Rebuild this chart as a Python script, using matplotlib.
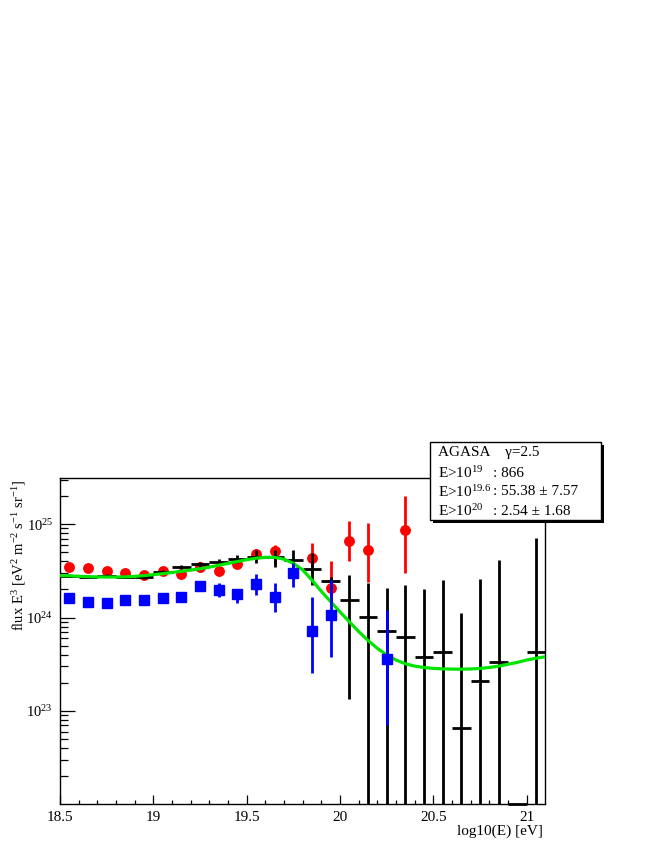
import numpy as np
import matplotlib
matplotlib.use('Agg')
import matplotlib.pyplot as plt
from matplotlib.patches import Rectangle
from matplotlib.ticker import LogLocator, NullFormatter, FixedLocator, MultipleLocator

plt.rcParams['font.family'] = ['Liberation Serif', 'DejaVu Serif']
plt.rcParams['mathtext.fontset'] = 'custom'
plt.rcParams['mathtext.rm'] = 'Liberation Serif'
plt.rcParams['mathtext.it'] = 'Liberation Serif:italic'
plt.rcParams['mathtext.bf'] = 'Liberation Serif:bold'

# ---------------- data ----------------
black_x = [18.55, 18.65, 18.75, 18.85, 18.95, 19.05, 19.15, 19.25, 19.35, 19.45,
           19.55, 19.65, 19.75, 19.85, 19.95, 20.05, 20.15, 20.25, 20.35, 20.45,
           20.55, 20.65, 20.75, 20.85, 20.95, 21.05]
black_y = [2.81e24, 2.75e24, 2.81e24, 2.74e24, 2.69e24, 3.06e24, 3.48e24, 3.72e24, 3.98e24, 4.22e24,
           4.43e24, 4.50e24, 4.17e24, 3.34e24, 2.47e24, 1.53e24, 1.01e24, 7.13e23, 6.15e23, 3.75e23,
           4.25e23, 6.56e22, 2.11e23, 3.34e23, 0.0, 4.25e23]
black_lo = [2.70e24, 2.64e24, 2.70e24, 2.63e24, 2.57e24, 2.91e24, 3.28e24, 3.48e24, 3.68e24, 3.80e24,
            3.80e24, 3.52e24, 3.24e24, 2.24e24, 2.00e24, 1.34e23, 0.0, 0.0, 0.0, 0.0,
            0.0, 0.0, 0.0, 0.0, 0.0, 0.0]
black_hi = [2.92e24, 2.86e24, 2.92e24, 2.85e24, 2.81e24, 3.21e24, 3.68e24, 3.97e24, 4.28e24, 4.68e24,
            5.31e24, 5.25e24, 5.31e24, 4.90e24, 2.75e24, 2.86e24, 2.35e24, 2.06e24, 2.24e24, 2.03e24,
            2.51e24, 1.12e24, 2.59e24, 4.11e24, 0.0, 7.19e24]

red_x = [18.55, 18.65, 18.75, 18.85, 18.95, 19.05, 19.15, 19.25, 19.35, 19.45,
         19.55, 19.65, 19.75, 19.85, 19.95, 20.05, 20.15, 20.35]
red_y = [3.46e24, 3.43e24, 3.13e24, 3.03e24, 2.86e24, 3.16e24, 2.91e24, 3.48e24, 3.16e24, 3.72e24,
         4.81e24, 5.21e24, 2.99e24, 4.39e24, 2.06e24, 6.67e24, 5.31e24, 8.69e24]
red_lo = [3.36e24, 3.33e24, 3.03e24, 2.93e24, 2.76e24, 3.04e24, 2.79e24, 3.33e24, 3.01e24, 3.52e24,
          4.37e24, 3.72e24, 2.60e24, 3.03e24, 1.41e24, 4.05e24, 2.43e24, 3.02e24]
red_hi = [3.56e24, 3.53e24, 3.23e24, 3.13e24, 2.97e24, 3.29e24, 3.04e24, 3.64e24, 3.33e24, 3.95e24,
          5.37e24, 6.00e24, 4.17e24, 6.25e24, 4.05e24, 1.07e25, 1.02e25, 2.01e25]

blue_x = [18.55, 18.65, 18.75, 18.85, 18.95, 19.05, 19.15, 19.25, 19.35, 19.45,
          19.55, 19.65, 19.75, 19.85, 19.95, 20.25]
blue_y = [1.61e24, 1.46e24, 1.42e24, 1.56e24, 1.53e24, 1.60e24, 1.67e24, 2.18e24, 1.98e24, 1.79e24,
          2.28e24, 1.67e24, 2.99e24, 7.18e23, 1.07e24, 3.60e23]
blue_lo = [1.56e24, 1.41e24, 1.37e24, 1.50e24, 1.47e24, 1.53e24, 1.60e24, 1.95e24, 1.67e24, 1.42e24,
           1.75e24, 1.14e24, 2.14e24, 2.53e23, 3.81e23, 7.06e22]
blue_hi = [1.66e24, 1.51e24, 1.47e24, 1.62e24, 1.59e24, 1.67e24, 1.75e24, 2.45e24, 2.33e24, 2.04e24,
           2.91e24, 2.37e24, 3.82e24, 1.65e24, 2.53e24, 1.21e24]

fit_x = [18.50, 18.55, 18.60, 18.65, 18.70, 18.75, 18.80, 18.85, 18.90, 18.95,
         19.00, 19.05, 19.10, 19.15, 19.20, 19.25, 19.30, 19.35, 19.40, 19.45,
         19.50, 19.55, 19.60, 19.65, 19.70, 19.75, 19.80, 19.85, 19.90, 19.95,
         20.00, 20.05, 20.10, 20.15, 20.20, 20.25, 20.30, 20.35, 20.40, 20.45,
         20.50, 20.55, 20.60, 20.65, 20.70, 20.75, 20.80, 20.85, 20.90, 20.95,
         21.00, 21.05, 21.10]
fit_logy = [24.449, 24.447, 24.442, 24.438, 24.435, 24.434, 24.434, 24.436, 24.441, 24.449,
            24.460, 24.470, 24.483, 24.495, 24.508, 24.523, 24.540, 24.560, 24.580, 24.600,
            24.620, 24.635, 24.645, 24.645, 24.625, 24.580, 24.510, 24.400, 24.280, 24.170,
            24.060, 23.955, 23.850, 23.755, 23.670, 23.600, 23.545, 23.505, 23.480, 23.465,
            23.456, 23.450, 23.448, 23.447, 23.449, 23.455, 23.465, 23.480, 23.500, 23.520,
            23.545, 23.565, 23.580]

legend_lines = ["AGASA    \u03b3=2.5",
                r"E>10$^{19}$",
                r"E>10$^{19.6}$",
                r"E>10$^{20}$"]
legend_values = ["", ": 866", ": 55.38 \u00b1 7.57", ": 2.54 \u00b1 1.68"]

# ---------------- figure ----------------
W, H = 654, 846
fig = plt.figure(figsize=(W / 100, H / 100), dpi=100)
ax = fig.add_axes([60 / W, 1 - 804.3 / H, (545 - 60) / W, (804.3 - 478.3) / H])

YMIN, YMAX = 1.0e22, 3.1e25
ax.set_xlim(18.5, 21.098)
ax.set_yscale('log')
ax.set_ylim(YMIN, YMAX)


def errs(y, lo, hi):
    y = np.asarray(y, float)
    lo = np.asarray(lo, float)
    hi = np.asarray(hi, float)
    lo = np.where(lo <= 0, YMIN * 0.1, lo)
    return np.vstack([y - lo, hi - y])

# red circles
ax.errorbar(red_x, red_y, yerr=errs(red_y, red_lo, red_hi), fmt='o', color='#ff0000',
            ms=6.8, mec='#ff0000', elinewidth=2.0, capsize=0, zorder=2)

# black crosses
bx = np.asarray(black_x)
by = np.asarray(black_y)
mask = by > 0
ax.errorbar(bx[mask], by[mask], xerr=0.05,
            yerr=errs(by[mask], np.asarray(black_lo)[mask], np.asarray(black_hi)[mask]),
            fmt='none', ecolor='black', elinewidth=2.0, capsize=0, zorder=3)
for xv in bx[~mask]:
    ax.hlines(YMIN, xv - 0.05, xv + 0.05, colors='black', lw=2.0, clip_on=False, zorder=3)

# green fit
ax.plot(fit_x, 10 ** np.asarray(fit_logy), color='#00e400', lw=2.3, zorder=4)

# blue squares
ax.errorbar(blue_x, blue_y, yerr=errs(blue_y, blue_lo, blue_hi), fmt='s', color='#0000ff',
            ms=7.0, mec='#0000ff', elinewidth=2.0, capsize=0, zorder=5)

# axes styling
for s in ax.spines.values():
    s.set_linewidth(1.0)
ax.xaxis.set_major_locator(FixedLocator([18.5, 19.0, 19.5, 20.0, 20.5, 21.0]))
ax.xaxis.set_minor_locator(MultipleLocator(0.1))
ax.set_xticklabels(['18.5', '19', '19.5', '20', '20.5', '21'])
ax.yaxis.set_major_locator(FixedLocator([1e23, 1e24, 1e25]))
ax.set_yticklabels([r'10$^{23}$', r'10$^{24}$', r'10$^{25}$'])
ax.yaxis.set_minor_locator(LogLocator(base=10, subs=np.arange(2, 10)))
ax.yaxis.set_minor_formatter(NullFormatter())
ax.tick_params(axis='x', which='major', direction='in', length=6.5, width=0.9, labelsize=11, pad=5)
ax.tick_params(axis='x', which='minor', direction='in', length=3.2, width=0.9)
ax.tick_params(axis='y', which='major', direction='in', length=11, width=0.9, labelsize=10.5, pad=5)
ax.tick_params(axis='y', which='minor', direction='in', length=5.5, width=0.9)
ax.tick_params(top=False, right=False, which='both')
for lab in ax.get_yticklabels():
    lab.set_verticalalignment('center_baseline')

fig.text(19 / W, 1 - 480 / H,
         r"flux E$^{3}$ [eV$^{2}$ m$^{-2}$ s$^{-1}$ sr$^{-1}$]",
         rotation=90, ha='center', va='top', fontsize=10.5)
fig.text(543 / W, 1 - 831 / H, "log10(E) [eV]", ha='right', va='center', fontsize=11)

# stats box with shadow
bx0, bx1 = 430 / W, 601 / W
by0, by1 = 1 - 520 / H, 1 - 441.7 / H
fig.patches.append(Rectangle((bx0 + 3 / W, by0 - 3 / H), bx1 - bx0, by1 - by0,
                             transform=fig.transFigure, facecolor='black', edgecolor='black',
                             lw=0, zorder=10))
fig.patches.append(Rectangle((bx0, by0), bx1 - bx0, by1 - by0, transform=fig.transFigure,
                             facecolor='white', edgecolor='black', lw=1.0, zorder=11))
line_y = [452.7, 473.3, 491.7, 511.0]
for txt, val, yy in zip(legend_lines, legend_values, line_y):
    fig.text(438 / W, 1 - yy / H, txt, ha='left', va='center', fontsize=11, zorder=12)
    if val:
        fig.text(493 / W, 1 - yy / H, val, ha='left', va='center', fontsize=11, zorder=12)

fig.savefig('out.png', dpi=100)
